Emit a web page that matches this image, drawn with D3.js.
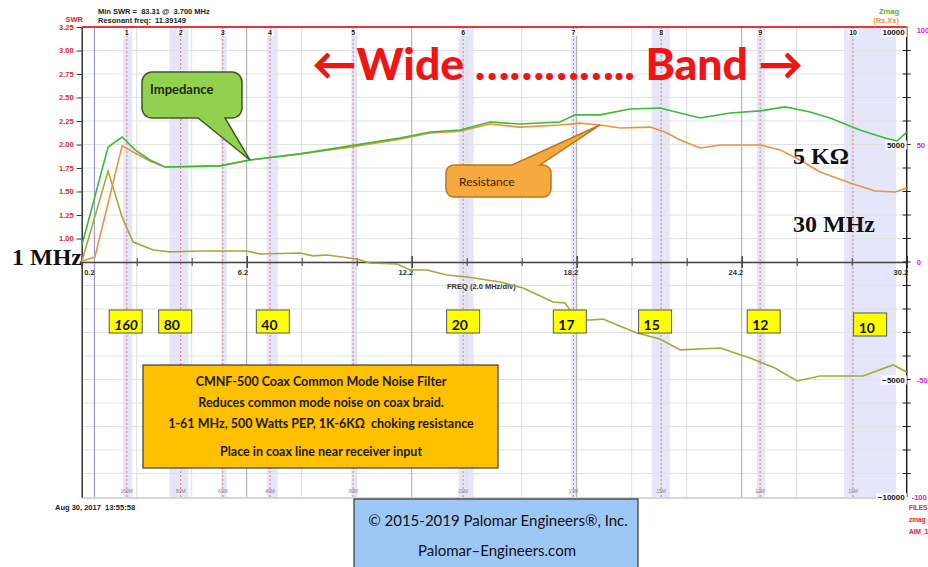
<!DOCTYPE html>
<html>
<head>
<meta charset="utf-8">
<script src="https://cdn.jsdelivr.net/npm/d3@7"></script>
<style>
body { margin: 0; background: #fff; }
svg { display: block; font-family: "Liberation Sans", Arial, sans-serif; }
text { white-space: pre; }
</style>
</head>
<body>
<script>
// Zmag trace (ohms)
const freqZ = [0.2, 1.16, 1.67, 2.14, 2.68, 3.23, 5.23, 6.32, 8.14, 9.96, 11.77, 12.87, 13.96, 15.05, 16.14, 17.59, 18.14, 19.05, 20.14, 21.23, 21.96, 22.69, 23.78, 24.87, 25.78, 26.69, 27.41, 28.5, 29.41, 29.85, 30.2];
const zmag = [680, 4890, 5320, 4770, 4340, 4040, 4090, 4340, 4600, 4940, 5280, 5530, 5620, 5960, 5870, 5960, 6260, 6260, 6510, 6550, 6340, 6130, 6340, 6430, 6600, 6380, 6130, 5620, 5280, 5150, 5530];

// Rs trace (ohms)
const freqRs = [0.2, 0.68, 1.67, 2.14, 2.68, 3.23, 5.23, 6.32, 8.14, 9.96, 11.77, 12.87, 13.96, 15.05, 16.14, 17.59, 18.32, 19.05, 19.78, 20.87, 21.41, 21.96, 22.69, 23.42, 24.87, 25.6, 26.32, 27.05, 28.14, 29.05, 29.78, 30.2];
const rs = [30, 210, 4940, 4640, 4300, 4040, 4090, 4340, 4600, 4890, 5230, 5490, 5570, 5870, 5740, 5830, 5910, 5830, 5700, 5740, 5530, 5190, 4850, 4980, 4980, 4770, 4340, 3830, 3360, 3020, 2980, 3150];

// Xs trace (ohms)
const freqXs = [0.2, 1.16, 1.67, 2.07, 2.8, 3.41, 4.5, 6.21, 6.68, 8.14, 8.61, 9.12, 10.21, 10.68, 11.67, 12.14, 12.76, 13.48, 14.21, 15.41, 16.25, 17.34, 17.77, 18.21, 18.68, 19.16, 19.67, 20.39, 21.23, 21.96, 23.42, 24.5, 25.41, 26.21, 27.05, 28.61, 29.7, 30.2];
const xs = [0, 3870, 1910, 850, 510, 430, 470, 470, 340, 380, 260, 300, 130, -40, -85, -340, -340, -550, -640, -850, -1110, -1700, -1740, -2470, -2470, -2430, -2680, -3020, -3280, -3740, -3660, -4090, -4510, -5060, -4850, -4850, -4380, -4680];

// ham bands: marker freq and shaded span (MHz)
const bandNames = ['160', '80', '60', '40', '30', '20', '17', '15', '12', '10'];
const bandMark = [1.84, 3.8, 5.33, 7.05, 10.07, 14.07, 18.08, 21.27, 24.87, 28.25];
const bandLo = [1.71, 3.39, 5.27, 6.93, 10.0, 13.9, 18.0, 20.93, 24.75, 27.92];
const bandHi = [2.04, 4.08, 5.47, 7.33, 10.2, 14.45, 18.2, 21.59, 25.05, 29.81];

// yellow band labels
const boxNames = ['160', '80', '40', '20', '17', '15', '12', '10'];
const boxFreq = [1.8, 3.6, 7.15, 14.07, 17.95, 21.05, 25.0, 28.87];

const swrTicks = [1.00, 1.25, 1.50, 1.75, 2.00, 2.25, 2.50, 2.75, 3.00, 3.25];
const ohmLabels = [10000, 5000, -5000, -10000];
const pctLabels = [100, 50, 0, -50, -100];

const width = 928, height = 567;

const x = d3.scaleLinear().domain([0.2, 30.2]).range([81.7, 906.7]);
const yR = d3.scaleLinear().domain([-10000, 10000]).range([497, 27]);
const ySwr = d3.scaleLinear().domain([-1.75, 3.25]).range([497, 27]);
const yPct = d3.scaleLinear().domain([-100, 100]).range([497, 27]);

const x0 = x(0.2), x1 = x(30.2), yTop = yR(10000), yBot = yR(-10000);

const svg = d3.select('body').append('svg')
    .attr('width', width)
    .attr('height', height);

// band shading
svg.append('g').selectAll('rect')
    .data(bandLo)
    .enter().append('rect')
    .attr('x', (d, i) => x(d))
    .attr('y', yTop)
    .attr('width', (d, i) => x(bandHi[i]) - x(d))
    .attr('height', yBot - yTop)
    .attr('fill', '#e6e6fa');

// grid
const grid = svg.append('g');
grid.selectAll('.h')
    .data(d3.range(-9000, 10000, 1000))
    .enter().append('line')
    .attr('x1', x0).attr('x2', x1)
    .attr('y1', d => yR(d)).attr('y2', d => yR(d))
    .attr('stroke', '#e2e2e2');
const freqTicks = d3.range(0, 16).map(i => 0.2 + 2 * i);
grid.selectAll('.v')
    .data(freqTicks.slice(1, -1))
    .enter().append('line')
    .attr('x1', d => x(d)).attr('x2', d => x(d))
    .attr('y1', yTop).attr('y2', yBot)
    .attr('stroke', (d, i) => (i + 1) % 3 === 0 ? '#a8a8a8' : '#dedede');

// band marker lines
svg.append('g').selectAll('line')
    .data(bandMark)
    .enter().append('line')
    .attr('x1', d => x(d)).attr('x2', d => x(d))
    .attr('y1', yTop).attr('y2', yBot)
    .attr('stroke', '#e07878')
    .attr('stroke-dasharray', '2,2');

// blue cursor line
svg.append('line')
    .attr('x1', x(0.66)).attr('x2', x(0.66))
    .attr('y1', yTop).attr('y2', yBot)
    .attr('stroke', '#8a8ae8');

// bottom edge
svg.append('line')
    .attr('x1', x0).attr('x2', x1)
    .attr('y1', yBot + 1).attr('y2', yBot + 1)
    .attr('stroke', '#c8c8c8').attr('stroke-width', 1.5);

// left SWR axis
const swrAxis = svg.append('g')
    .attr('transform', `translate(${x0},0)`)
    .call(d3.axisLeft(ySwr).tickValues(swrTicks).tickFormat(d3.format('.2f')).tickSize(5).tickSizeOuter(0));
swrAxis.select('.domain').attr('stroke', '#333').attr('stroke-width', 1.5);
swrAxis.selectAll('.tick line').attr('stroke', '#333');
swrAxis.selectAll('.tick text')
    .attr('fill', '#e02828')
    .attr('font-weight', 'bold')
    .attr('font-size', 7.5)
    .attr('font-family', '"Liberation Sans", Arial, sans-serif');

// frequency axis on the zero line
const fAxis = svg.append('g')
    .attr('transform', `translate(0,${yR(0)})`)
    .call(d3.axisBottom(x).tickValues(freqTicks)
        .tickFormat((d, i) => i % 3 === 0 ? d3.format('.1f')(d) : '')
        .tickSize(4).tickSizeOuter(0));
fAxis.select('.domain').attr('stroke', '#444').attr('stroke-width', 1.5);
fAxis.selectAll('.tick line')
    .attr('stroke', '#444')
    .attr('y1', (d, i) => i % 3 === 0 ? -6 : -4)
    .attr('y2', (d, i) => i % 3 === 0 ? 6 : 4)
    .attr('stroke-width', (d, i) => i % 3 === 0 ? 1.5 : 1);
fAxis.selectAll('.tick text')
    .attr('fill', '#333')
    .attr('font-weight', 'bold')
    .attr('font-size', 7.5)
    .attr('font-family', '"Liberation Sans", Arial, sans-serif')
    .attr('text-anchor', (d, i) => i === 0 ? 'start' : 'end')
    .attr('x', (d, i) => i === 0 ? 2 : 1)
    .attr('y', 8)
    .attr('dy', '0.71em');

svg.append('text')
    .attr('x', 447).attr('y', 289)
    .attr('font-size', 7.5).attr('font-weight', 'bold').attr('fill', '#333')
    .text('FREQ (2.0 MHz/div)');

// right ohms axis
const rAxis = svg.append('g');
rAxis.append('line')
    .attr('x1', x1).attr('x2', x1)
    .attr('y1', yTop).attr('y2', yBot)
    .attr('stroke', '#222').attr('stroke-width', 1.5);
rAxis.selectAll('.t')
    .data(d3.range(-9000, 10000, 1000))
    .enter().append('line')
    .attr('x1', x1 - 4).attr('x2', x1 + 4)
    .attr('y1', d => yR(d)).attr('y2', d => yR(d))
    .attr('stroke', '#222');

function labelBg(g, txt, px, py, anchor, size, color) {
    const t = g.append('text')
        .attr('x', px).attr('y', py)
        .attr('text-anchor', anchor)
        .attr('font-size', size).attr('font-weight', 'bold')
        .attr('fill', color)
        .text(txt);
    const b = t.node().getBBox();
    g.insert('rect', () => t.node())
        .attr('x', b.x - 1.5).attr('y', b.y).attr('width', b.width + 3).attr('height', b.height)
        .attr('fill', '#fff');
    return t;
}

ohmLabels.forEach(v => {
    const py = v === 10000 ? yR(v) + 8 : yR(v) + 3;
    labelBg(rAxis, d3.format('d')(v), x1 - 2, py, 'end', 8, '#111');
});

svg.append('g').selectAll('text')
    .data(pctLabels)
    .enter().append('text')
    .attr('x', d => d === -100 ? x1 + 5 : x1 + 10)
    .attr('y', d => d === 100 ? yPct(d) + 6 : yPct(d) + 3)
    .attr('font-size', 7.5).attr('font-weight', 'bold')
    .attr('fill', '#d428d4')
    .text(d => d);

// traces
const line = d3.line().x(d => x(d[0])).y(d => yR(d[1]));
svg.append('path')
    .attr('d', line(d3.zip(freqXs, xs)))
    .attr('fill', 'none').attr('stroke', '#a6a83a').attr('stroke-width', 1.6);
svg.append('path')
    .attr('d', line(d3.zip(freqRs, rs)))
    .attr('fill', 'none').attr('stroke', '#eb933f').attr('stroke-width', 1.6);
svg.append('path')
    .attr('d', line(d3.zip(freqZ, zmag)))
    .attr('fill', 'none').attr('stroke', '#3cba3c').attr('stroke-width', 1.6);

// SWR off scale, pinned at top
svg.append('line')
    .attr('x1', x0).attr('x2', x1)
    .attr('y1', ySwr(3.25)).attr('y2', ySwr(3.25))
    .attr('stroke', '#e83434').attr('stroke-width', 2);

// band marker labels
const mTop = svg.append('g');
bandMark.forEach((d, i) => {
    labelBg(mTop, String(i + 1), x(d), 35, 'middle', 7, '#111');
});
svg.append('g').selectAll('text')
    .data(bandMark)
    .enter().append('text')
    .attr('x', d => x(d)).attr('y', 493)
    .attr('text-anchor', 'middle')
    .attr('font-size', 5).attr('fill', '#888')
    .text((d, i) => bandNames[i] + 'M');

// header texts
const head = svg.append('g').attr('font-size', 7.5).attr('font-weight', 'bold');
head.append('text').attr('x', 98).attr('y', 14).attr('fill', '#222').text('Min SWR =  83.31 @  3.700 MHz');
head.append('text').attr('x', 98).attr('y', 23).attr('fill', '#222').text('Resonant freq:  11.39149');
head.append('text').attr('x', 83).attr('y', 22).attr('text-anchor', 'end').attr('fill', '#e02828').text('SWR');
head.append('text').attr('x', 899).attr('y', 14).attr('text-anchor', 'end').attr('fill', '#3cba3c').text('Zmag');
head.append('text').attr('x', 899).attr('y', 23).attr('text-anchor', 'end').attr('fill', '#e8953a').text('(Rs,Xs)');
head.append('text').attr('x', 55).attr('y', 510).attr('fill', '#222').text('Aug 30, 2017  13:55:58');
const foot = svg.append('g').attr('font-size', 6.5).attr('font-weight', 'bold').attr('fill', '#e02828');
['FILES', 'zmag', 'AIM_1'].forEach((t, i) => foot.append('text').attr('x', 909).attr('y', 510 + i * 12).text(t));

// callouts
function callout(bx, by, w, h, r, edge, t1, t2, tip) {
    const p = d3.path();
    p.moveTo(bx + r, by);
    if (edge === 'top') { p.lineTo(t1, by); p.lineTo(tip[0], tip[1]); p.lineTo(t2, by); }
    p.lineTo(bx + w - r, by);
    p.arcTo(bx + w, by, bx + w, by + r, r);
    p.lineTo(bx + w, by + h - r);
    p.arcTo(bx + w, by + h, bx + w - r, by + h, r);
    if (edge === 'bottom') { p.lineTo(t2, by + h); p.lineTo(tip[0], tip[1]); p.lineTo(t1, by + h); }
    p.lineTo(bx + r, by + h);
    p.arcTo(bx, by + h, bx, by + h - r, r);
    p.lineTo(bx, by + r);
    p.arcTo(bx, by, bx + r, by, r);
    p.closePath();
    return p.toString();
}

svg.append('path')
    .attr('d', callout(142, 72, 100, 46, 10, 'bottom', 198, 225, [x(6.32), yR(4340)]))
    .attr('fill', '#92d050').attr('stroke', '#3f5a2a').attr('stroke-width', 1.5);
svg.append('text')
    .attr('x', 150).attr('y', 94)
    .attr('font-family', 'Lato, sans-serif').attr('font-weight', 'bold').attr('font-size', 13)
    .attr('fill', '#1e2a12')
    .text('Impedance');

svg.append('path')
    .attr('d', callout(446, 165, 105, 32, 8, 'top', 512, 540, [x(19.05), yR(5830)]))
    .attr('fill', '#f5a93e').attr('stroke', '#b8761f').attr('stroke-width', 1.5);
svg.append('text')
    .attr('x', 459).attr('y', 186)
    .attr('font-family', 'Lato, sans-serif').attr('font-size', 12)
    .attr('fill', '#3a2208')
    .text('Resistance');

// yellow band boxes
const yb = svg.append('g').selectAll('g')
    .data(boxNames)
    .enter().append('g')
    .attr('transform', (d, i) => `translate(${x(boxFreq[i]) - 16.5},${d === '10' ? 313 : 310})`);
yb.append('rect')
    .attr('width', 33).attr('height', 23)
    .attr('fill', '#ffff00').attr('stroke', '#555').attr('stroke-width', 1);
yb.append('text')
    .attr('x', 5).attr('y', 20)
    .attr('font-family', 'Lato, sans-serif').attr('font-weight', 'bold').attr('font-size', 14)
    .attr('font-style', d => d === '160' ? 'italic' : 'normal')
    .attr('fill', '#111')
    .text(d => d);

// product box
const pb = svg.append('g');
pb.append('rect')
    .attr('x', 143).attr('y', 365).attr('width', 355).attr('height', 103)
    .attr('fill', '#ffc000').attr('stroke', '#3a3a3a').attr('stroke-width', 1.2);
const pLines = [
    ['CMNF-500 Coax Common Mode Noise Filter', 386],
    ['Reduces common mode noise on coax braid.', 407],
    ['1-61 MHz, 500 Watts PEP, 1K-6K\u03A9  choking resistance', 428],
    ['Place in coax line near receiver input', 456]
];
pb.selectAll('text')
    .data(pLines)
    .enter().append('text')
    .attr('x', 321).attr('y', d => d[1])
    .attr('text-anchor', 'middle')
    .attr('font-family', 'Lato, sans-serif').attr('font-weight', 'bold').attr('font-size', 12.5)
    .attr('fill', '#1a1a1a')
    .text(d => d[0]);

// copyright box
const cb = svg.append('g');
cb.append('rect')
    .attr('x', 354).attr('y', 499).attr('width', 284).attr('height', 75)
    .attr('fill', '#9dc8f5').attr('stroke', '#333').attr('stroke-width', 1.2);
cb.append('text')
    .attr('x', 498).attr('y', 526)
    .attr('text-anchor', 'middle')
    .attr('font-family', 'Lato, sans-serif').attr('font-size', 15)
    .attr('fill', '#111')
    .text('\u00A9 2015-2019 Palomar Engineers\u00AE, Inc.');
cb.append('text')
    .attr('x', 497).attr('y', 556)
    .attr('text-anchor', 'middle')
    .attr('font-family', 'Lato, sans-serif').attr('font-size', 15)
    .attr('fill', '#111')
    .text('Palomar\u2013Engineers.com');

// big title
svg.append('text')
    .attr('x', 312).attr('y', 80)
    .attr('font-family', 'Lato, sans-serif').attr('font-weight', 900).attr('font-size', 44.5)
    .attr('fill', '#f01414')
    .text('\u2190Wide \u2026\u2026\u2026\u2026.. Band \u2192');

// serif notes
const notes = svg.append('g')
    .attr('font-family', '"Liberation Serif", "DejaVu Serif", serif')
    .attr('font-weight', 'bold').attr('font-size', 24).attr('fill', '#111');
notes.append('text').attr('x', 12).attr('y', 265).text('1 MHz');
notes.append('text').attr('x', 793).attr('y', 164).text('5 K\u03A9');
notes.append('text').attr('x', 793).attr('y', 232).text('30 MHz');
</script>
</body>
</html>
